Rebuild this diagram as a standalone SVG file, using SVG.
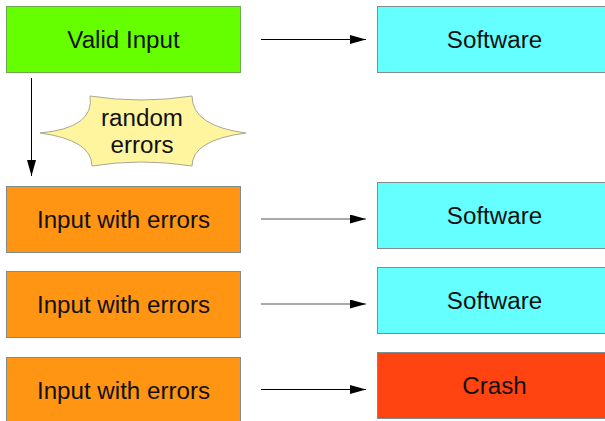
<svg xmlns="http://www.w3.org/2000/svg" width="605" height="421" viewBox="0 0 605 421">
  <defs>
    <style>
      .box { stroke: #7f8c8d; stroke-width: 1; }
      .valid { fill: #66ff00; stroke: #6aa84f; }
      .soft { fill: #66ffff; }
      .err { fill: #ff9513; }
      .crash { fill: #ff4412; }
      .star { fill: #fff59f; stroke: #a8a890; stroke-width: 1; }
      .lbl { font-family: "Liberation Sans", Arial, sans-serif; font-size: 23px; fill: #111; text-anchor: middle; }
      .conn line { stroke: #000; stroke-width: 1; }
      .conn .soft-line { stroke: #555; }
    </style>
    <marker id="arrow" markerWidth="16" markerHeight="9" refX="16" refY="4.5" orient="auto" markerUnits="userSpaceOnUse">
      <path d="M0,0 L16,4.5 L0,9 Z" fill="#000"/>
    </marker>
  </defs>

  <rect width="605" height="421" fill="#ffffff"/>

  <g id="valid-input">
    <rect class="box valid" x="6.5" y="6.5" width="234" height="66"/>
    <text class="lbl" transform="translate(123.5,47.5) scale(1.05,1)">Valid Input</text>
  </g>

  <g id="software-1">
    <rect class="box soft" x="377.5" y="6.5" width="234" height="66"/>
    <text class="lbl" transform="translate(494.5,47.5) scale(1.05,1)">Software</text>
  </g>

  <g id="random-errors">
    <path class="star" d="M90,96 Q141,104 192,96 Q192,126 246,133 Q192,140 192,166 Q141,158 92,166 Q92,140 40,133 Q95,128 90,96 Z"/>
    <text class="lbl" transform="translate(142,126) scale(1.05,1)">random</text>
    <text class="lbl" transform="translate(142,153) scale(1.05,1)">errors</text>
  </g>

  <g id="input-errors-1">
    <rect class="box err" x="6.5" y="186.5" width="234" height="66"/>
    <text class="lbl" transform="translate(123.5,227.8) scale(1.05,1)">Input with errors</text>
  </g>

  <g id="software-2">
    <rect class="box soft" x="377.5" y="182.5" width="234" height="66"/>
    <text class="lbl" transform="translate(494.5,223.8) scale(1.05,1)">Software</text>
  </g>

  <g id="input-errors-2">
    <rect class="box err" x="6.5" y="271.5" width="234" height="66"/>
    <text class="lbl" transform="translate(123.5,312.8) scale(1.05,1)">Input with errors</text>
  </g>

  <g id="software-3">
    <rect class="box soft" x="377.5" y="267.5" width="234" height="66"/>
    <text class="lbl" transform="translate(494.5,308.8) scale(1.05,1)">Software</text>
  </g>

  <g id="input-errors-3">
    <rect class="box err" x="6.5" y="357.5" width="234" height="66"/>
    <text class="lbl" transform="translate(123.5,398.8) scale(1.05,1)">Input with errors</text>
  </g>

  <g id="crash">
    <rect class="box crash" x="377.5" y="352.5" width="234" height="66"/>
    <text class="lbl" transform="translate(494.5,393.8) scale(1.05,1)">Crash</text>
  </g>

  <g id="connectors" class="conn">
    <line x1="261" y1="39.5" x2="366" y2="39.5" marker-end="url(#arrow)"/>
    <line x1="31.5" y1="78" x2="31.5" y2="176" marker-end="url(#arrow)"/>
    <line class="soft-line" x1="261" y1="219" x2="366" y2="219" marker-end="url(#arrow)"/>
    <line class="soft-line" x1="261" y1="304" x2="366" y2="304" marker-end="url(#arrow)"/>
    <line x1="261" y1="389.5" x2="366" y2="389.5" marker-end="url(#arrow)"/>
  </g>
</svg>
